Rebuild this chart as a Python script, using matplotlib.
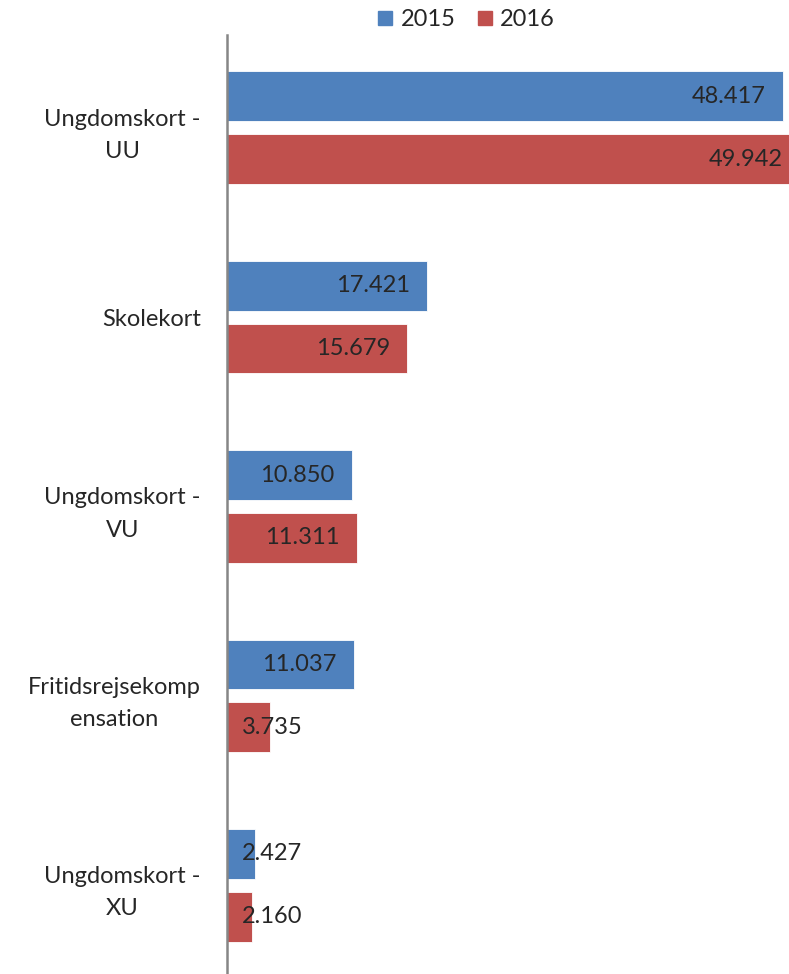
import matplotlib
matplotlib.use("Agg")
import matplotlib.pyplot as plt
import numpy as np
from matplotlib.lines import Line2D

plt.rcParams['font.family'] = ['Lato', 'DejaVu Sans']

categories = ["Ungdomskort -\nUU", "Skolekort", "Ungdomskort -\nVU",
              "Fritidsrejsekomp\nensation", "Ungdomskort -\nXU"]
values_2015 = [48.417, 17.421, 10.850, 11.037, 2.427]
values_2016 = [49.942, 15.679, 11.311, 3.735, 2.160]
labels_2015 = ["48.417", "17.421", "10.850", "11.037", "2.427"]
labels_2016 = ["49.942", "15.679", "11.311", "3.735", "2.160"]
series_names = ["2015", "2016"]

blue = "#4F81BD"
red = "#C0504D"
txt = "#262626"

W, H = 789, 974
fig = plt.figure(figsize=(W/100, H/100), dpi=100)
ax = fig.add_axes([227/W, 0, 1 - 227/W, 1 - 35/H])

y = np.arange(len(categories))
bh = 50/190
off = 31.5/190
ax.barh(y - off, values_2015, height=bh, color=blue, edgecolor='white', linewidth=0.6)
ax.barh(y + off, values_2016, height=bh, color=red, edgecolor='white', linewidth=0.6)

ax.set_xlim(0, 562/11.48)
ax.set_ylim(4.468, -0.489)

fs = 17
for vals, labs, sgn in [(values_2015, labels_2015, -1), (values_2016, labels_2016, 1)]:
    for i, (v, l) in enumerate(zip(vals, labs)):
        yy = i + sgn*off
        if v > 8:
            ax.text(v - 1.5, yy, l, ha='right', va='center', fontsize=fs, color=txt)
        else:
            ax.text(1.3, yy, l, ha='left', va='center', fontsize=fs, color=txt)

ax.set_yticks(y)
ax.set_yticklabels(categories, fontsize=fs, color=txt, multialignment='center', linespacing=1.65)
ax.tick_params(axis='y', length=0, pad=19)
ax.set_xticks([])
for s in ['top', 'right', 'bottom']:
    ax.spines[s].set_visible(False)
ax.spines['left'].set_color('#868686')
ax.spines['left'].set_linewidth(1.8)

handles = [Line2D([], [], marker='s', linestyle='none', markersize=10, color=blue),
           Line2D([], [], marker='s', linestyle='none', markersize=10, color=red)]
fig.legend(handles, series_names, loc='center', bbox_to_anchor=(466/W, 1 - 20/H),
           ncol=2, frameon=False, fontsize=fs, handlelength=0.7, handletextpad=0.3,
           columnspacing=0.9, labelcolor=txt)

fig.savefig("out.png", dpi=100)
